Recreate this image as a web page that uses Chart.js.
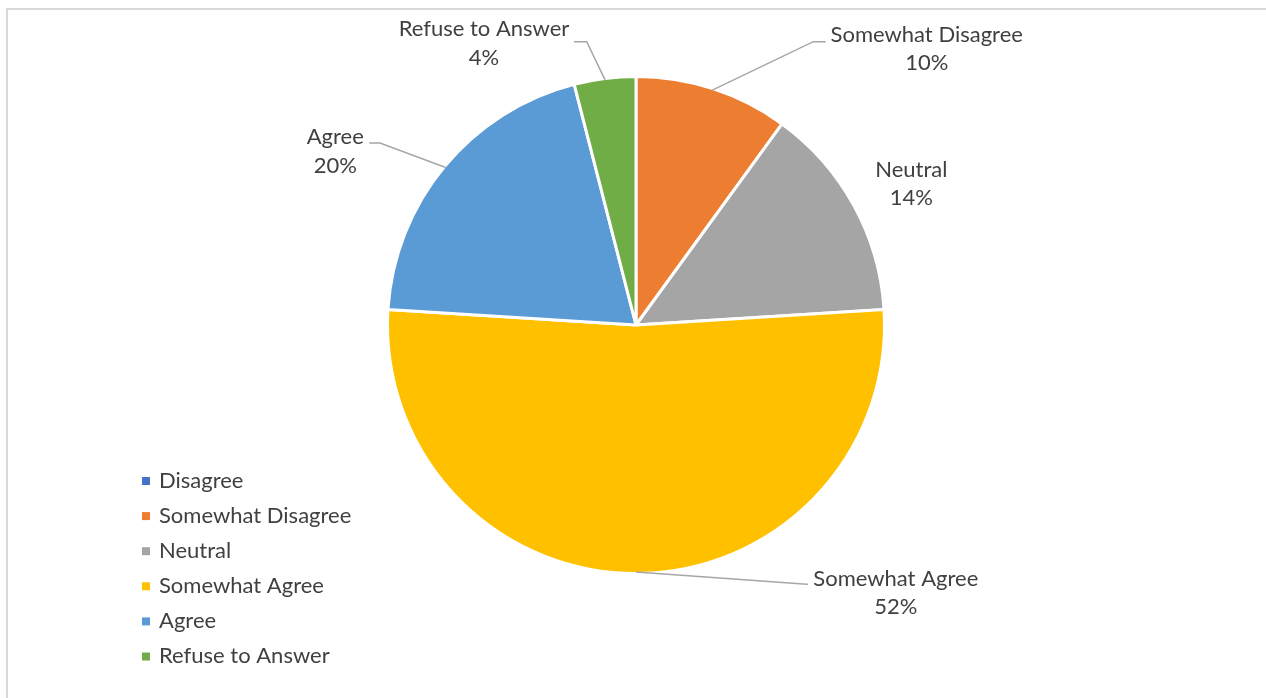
<!DOCTYPE html>
<html>
<head>
<meta charset="utf-8">
<script src="https://cdn.jsdelivr.net/npm/chart.js@4/dist/chart.umd.min.js"></script>
<style>
  html, body { margin: 0; padding: 0; background: #ffffff; }
  #wrap { width: 1266px; height: 698px; position: relative; }
</style>
</head>
<body>
<div id="wrap"><canvas id="c" width="1266" height="698"></canvas></div>
<script>
// Survey responses (share of respondents, %)
const categories = ['Disagree', 'Somewhat Disagree', 'Neutral', 'Somewhat Agree', 'Agree', 'Refuse to Answer'];
const shares = [0, 10, 14, 52, 20, 4];
const sliceColors = ['#4472C4', '#ED7D31', '#A5A5A5', '#FFC000', '#5B9BD5', '#70AD47'];

const FONT = '22px Lato, "Open Sans", sans-serif';
const TEXT_COLOR = '#404040';
const LEADER_COLOR = '#A6A6A6';
const LINE_GAP = 28.7;

// Where each data label sits relative to the outer midpoint of its slice:
// text = first-line baseline centre, leader = polyline points (empty = no leader)
const labelPlacement = {
  'Somewhat Disagree': { text: [214.4, -48.4], leader: [[101, -48.4], [113.4, -48.4]] },
  'Neutral':           { text: [58.9, -29.3],  leader: [] },
  'Somewhat Agree':    { text: [259.8, 13.7],  leader: [[170.7, 12.3], [172, 12.3]] },
  'Agree':             { text: [-110.4, -23.2], leader: [[-65.7, -24.5], [-76.4, -24.5]] },
  'Refuse to Answer':  { text: [-121, -44],    leader: [[-18.3, -38.3], [-31, -38.3]] }
};

const frameAndLabels = {
  id: 'frameAndLabels',
  beforeDraw(chart) {
    const ctx = chart.ctx;
    ctx.save();
    ctx.strokeStyle = '#D9D9D9';
    ctx.lineWidth = 2;
    ctx.strokeRect(7, 9, 1400, 900);
    ctx.restore();
  },
  afterDraw(chart) {
    const ctx = chart.ctx;
    const meta = chart.getDatasetMeta(0);
    ctx.save();
    ctx.font = FONT;
    ctx.fillStyle = TEXT_COLOR;
    ctx.textBaseline = 'alphabetic';

    meta.data.forEach((arc, i) => {
      const value = shares[i];
      if (!value) return;
      const p = arc.getProps(['x', 'y', 'startAngle', 'endAngle', 'outerRadius'], true);
      const mid = (p.startAngle + p.endAngle) / 2;
      const r = p.outerRadius - 1.5;
      const ax = p.x + Math.cos(mid) * r;
      const ay = p.y + Math.sin(mid) * r;
      const place = labelPlacement[categories[i]];
      if (!place) return;

      if (place.leader.length) {
        ctx.beginPath();
        ctx.strokeStyle = LEADER_COLOR;
        ctx.lineWidth = 1.5;
        ctx.moveTo(ax, ay);
        place.leader.forEach(([dx, dy]) => ctx.lineTo(ax + dx, ay + dy));
        ctx.stroke();
      }

      ctx.textAlign = 'center';
      const tx = ax + place.text[0];
      const ty = ay + place.text[1];
      ctx.fillText(categories[i], tx, ty);
      ctx.fillText(value + '%', tx, ty + LINE_GAP);
    });

    // Legend, bottom left
    const lx = 142, ly0 = 481, step = 35.1;
    ctx.textAlign = 'left';
    categories.forEach((name, i) => {
      const cy = ly0 + i * step;
      ctx.fillStyle = sliceColors[i];
      ctx.fillRect(lx, cy - 4, 8, 8);
      ctx.fillStyle = TEXT_COLOR;
      ctx.fillText(name, lx + 17, cy + 6.5);
    });
    ctx.restore();
  }
};

new Chart(document.getElementById('c'), {
  type: 'pie',
  data: {
    labels: categories,
    datasets: [{
      data: shares,
      backgroundColor: sliceColors,
      borderColor: '#FFFFFF',
      borderWidth: 3
    }]
  },
  options: {
    responsive: false,
    animation: false,
    radius: 248.5,
    layout: { padding: { left: 386, right: 380, top: 75, bottom: 123 } },
    plugins: {
      legend: { display: false },
      tooltip: { enabled: false }
    }
  },
  plugins: [frameAndLabels]
});
</script>
</body>
</html>
